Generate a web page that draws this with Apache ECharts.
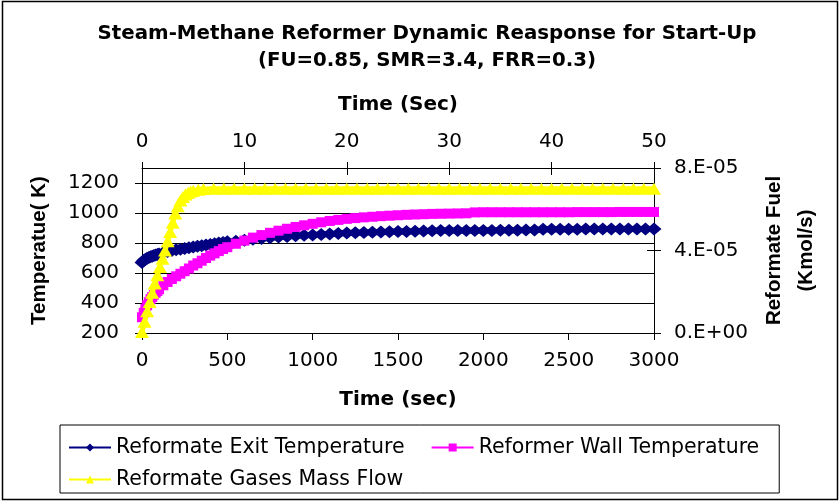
<!DOCTYPE html>
<html>
<head>
<meta charset="utf-8">
<script src="https://cdn.jsdelivr.net/npm/echarts@6/dist/echarts.min.js"></script>
<style>
  html, body { margin: 0; padding: 0; background: #fff; }
  #chart { width: 840px; height: 502px; }
</style>
</head>
<body>
<div id="chart"></div>
<script>
// ---- Data ----
// Bottom axis: time in seconds (0-3000)
const timeSec = [0,10,20,30,40,50,60,70,80,90,100,
  125,150,175,200,225,250,275,300,325,350,375,400,425,450,475,500,
  550,600,650,700,750,800,850,900,950,1000,
  1050,1100,1150,1200,1250,1300,1350,1400,1450,1500,
  1550,1600,1650,1700,1750,1800,1850,1900,1950,2000,
  2050,2100,2150,2200,2250,2300,2350,2400,2450,2500,
  2550,2600,2650,2700,2750,2800,2850,2900,2950,3000];
// Reformate Exit Temperature (K)
const exitTemp = [670,683,692,699,704,709,712,716,720,724,727,
  735,743,750,755,759,764,769,774,778,782,786,790,795,800,804,808,
  812,818,825,830,835,840,844,848,851,854,
  857,860,863,866,868,870,872,874,875,876,
  877,878,880,882,883,883,883,884,884,884,
  884,885,885,885,886,886,891,892,892,892,
  892,893,893,893,893,893,893,893,893,893];
// Reformer Wall Temperature (K)
const wallTemp = [305,335,362,385,405,425,440,455,468,480,492,
  518,540,560,578,595,612,630,650,665,682,700,716,731,746,760,772,
  795,816,836,853,868,882,895,907,918,928,
  938,947,954,961,966,971,975,979,982,985,
  988,990,992,994,995,996,997,998,1004,1005,
  1005,1005,1005,1005,1005,1005,1005,1005,1005,1005,
  1006,1006,1006,1006,1006,1007,1007,1007,1007,1007];
// Top axis: time in seconds (0-50) for the mass flow
const flowTime = [0,0.25,0.5,0.75,1,1.25,1.5,1.75,2,2.25,2.5,2.75,3,3.25,3.5,3.75,4,4.25,4.5,4.75,5,5.5,6,
  7,8,9,10,11,12,13,14,15,16,17,18,19,20,21,22,23,24,25,26,27,28,29,30,
  31,32,33,34,35,36,37,38,39,40,41,42,43,44,45,46,47,48,49,50];
// Reformate Gases Mass Flow, in units of 1e-5 kmol/s
const massFlowE5 = [0.05,0.55,1.05,1.5,1.95,2.4,2.8,3.2,3.6,4.0,4.45,4.9,5.35,5.8,6.15,6.42,6.6,6.72,6.8,6.86,6.9,6.95,6.98,
  7.0,7.0,7.0,7.0,7.0,7.0,7.0,7.0,7.0,7.0,7.0,7.0,7.0,7.0,7.0,7.0,7.0,7.0,7.0,7.0,7.0,7.0,7.0,7.0,
  7.0,7.0,7.0,7.0,7.0,7.0,7.0,7.0,7.0,7.0,7.0,7.0,7.0,7.0,7.0,7.0,7.0,7.0,7.0,7.0];

const seriesNames = ['Reformate Exit Temperature', 'Reformer Wall Temperature', 'Reformate Gases Mass Flow'];
const bottomAxis = { min: 0, max: 3000, interval: 500 };
const topAxis = { min: 0, max: 50, interval: 10 };
const leftAxis = { min: 200, max: 1300, interval: 200 };
const rightAxis = { min: 0, max: 8e-5, interval: 4e-5 };

// ---- Chart ----
const FONT = 'DejaVu Sans';
const ARIAL = 'Liberation Sans';
function sci(v) {
  if (v === 0) return '0.E+00';
  const s = Number(v).toExponential(0);
  const parts = s.split('e');
  const n = parseInt(parts[1], 10);
  return parts[0] + '.E' + (n < 0 ? '-' : '+') + String(Math.abs(n)).padStart(2, '0');
}
const plain = v => String(v);
const labelStyle = { color: '#000', fontFamily: FONT, fontSize: 20 };
const black = { color: '#000', width: 1 };

const chart = echarts.init(document.getElementById('chart'), null, { renderer: 'canvas' });
chart.setOption({
  animation: false,
  backgroundColor: '#fff',
  title: {
    text: 'Steam-Methane Reformer Dynamic Reasponse for Start-Up\n(FU=0.85, SMR=3.4, FRR=0.3)',
    left: 427, textAlign: 'center', top: 20, padding: 0,
    textStyle: { fontFamily: FONT, fontWeight: 'bold', fontSize: 19.8, lineHeight: 27, color: '#000' }
  },
  graphic: [{
    type: 'rect', shape: { x: 2.5, y: 1.5, width: 835, height: 498 },
    style: { fill: 'none', stroke: '#000', lineWidth: 1.5 }, silent: true, z: 100
  }],
  legend: [{
    data: seriesNames.slice(0, 2),
    left: 60, top: 425, orient: 'horizontal',
    padding: [12, 20, 35, 8],
    borderColor: '#000', borderWidth: 1,
    itemWidth: 42, itemHeight: 10, itemGap: 26,
    lineStyle: { width: 2 },
    textStyle: { fontFamily: FONT, fontSize: 20.5, color: '#000' }
  }, {
    data: seriesNames.slice(2),
    left: 68, top: 469, padding: 0,
    itemWidth: 42, itemHeight: 10,
    lineStyle: { width: 2 },
    textStyle: { fontFamily: FONT, fontSize: 20.5, color: '#000' }
  }],
  grid: { left: 142, right: 186, top: 168, bottom: 169, containLabel: false },
  xAxis: [{
    type: 'value', position: 'bottom', ...bottomAxis,
    name: 'Time (sec)', nameLocation: 'middle', nameGap: 57,
    nameTextStyle: { fontFamily: FONT, fontWeight: 'bold', fontSize: 20, color: '#000' },
    axisLine: { show: true, onZero: false, lineStyle: black },
    axisTick: { show: true, inside: false, length: 7, lineStyle: black },
    axisLabel: { ...labelStyle, margin: 18, formatter: plain },
    splitLine: { show: false }
  }, {
    type: 'value', position: 'top', ...topAxis,
    name: 'Time (Sec)', nameLocation: 'middle', nameGap: 53,
    nameTextStyle: { fontFamily: FONT, fontWeight: 'bold', fontSize: 20, color: '#000' },
    axisLine: { show: true, onZero: false, lineStyle: black },
    axisTick: { show: true, inside: false, length: 6, lineStyle: black },
    axisLabel: { ...labelStyle, margin: 16, formatter: plain },
    splitLine: { show: false }
  }, {
    type: 'value', position: 'top', ...topAxis,
    axisLine: { show: false, onZero: false },
    axisTick: { show: true, inside: true, length: 7, lineStyle: black },
    axisLabel: { show: false },
    splitLine: { show: false }
  }],
  yAxis: [{
    type: 'value', position: 'left', ...leftAxis,
    name: 'Temperatue( K)', nameLocation: 'middle', nameGap: 92,
    nameTextStyle: { fontFamily: ARIAL, fontWeight: 'bold', fontSize: 20.5, color: '#000' },
    axisLine: { show: true, onZero: false, lineStyle: black },
    axisTick: { show: true, inside: false, length: 7, lineStyle: black },
    axisLabel: { ...labelStyle, margin: 23, showMaxLabel: false, formatter: plain },
    splitLine: { show: true, lineStyle: black }
  }, {
    type: 'value', position: 'right', ...rightAxis,
    name: 'Reformate Fuel\n(Kmol/s)', nameLocation: 'middle', nameGap: 101, nameRotate: 90,
    nameTextStyle: { fontFamily: ARIAL, fontWeight: 'bold', fontSize: 20.5, lineHeight: 32, color: '#000', align: 'center' },
    axisLine: { show: true, onZero: false, lineStyle: black },
    axisTick: { show: true, inside: false, length: 7, lineStyle: black },
    axisLabel: { ...labelStyle, margin: 20, formatter: sci },
    splitLine: { show: false }
  }, {
    type: 'value', position: 'right', ...rightAxis,
    axisLine: { show: false, onZero: false },
    axisTick: { show: true, inside: true, length: 7, lineStyle: black },
    axisLabel: { show: false },
    splitLine: { show: false }
  }],
  series: [{
    name: seriesNames[0], type: 'line', xAxisIndex: 0, yAxisIndex: 0,
    data: timeSec.map((t, i) => [t, exitTemp[i]]),
    symbol: 'diamond', symbolSize: [15, 13],
    itemStyle: { color: '#000080' }, lineStyle: { color: '#000080', width: 6 },
    clip: false, z: 2
  }, {
    name: seriesNames[1], type: 'line', xAxisIndex: 0, yAxisIndex: 0,
    data: timeSec.map((t, i) => [t, wallTemp[i]]),
    symbol: 'rect', symbolSize: 10,
    itemStyle: { color: '#FF00FF' }, lineStyle: { color: '#FF00FF', width: 7 },
    clip: false, z: 3
  }, {
    name: seriesNames[2], type: 'line', xAxisIndex: 1, yAxisIndex: 1,
    data: flowTime.map((t, i) => [t, massFlowE5[i] * 1e-5]),
    symbol: 'triangle', symbolSize: [14, 12],
    itemStyle: { color: '#FFFF00' }, lineStyle: { color: '#FFFF00', width: 5 },
    clip: false, z: 4
  }]
});
</script>
</body>
</html>
